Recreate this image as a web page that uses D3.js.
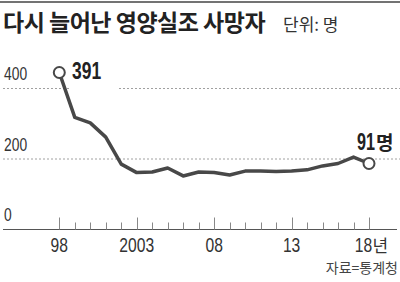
<!DOCTYPE html>
<html>
<head>
<meta charset="utf-8">
<script src="https://cdn.jsdelivr.net/npm/d3@7"></script>
<style>
  html, body { margin: 0; padding: 0; background: #fff; }
  svg { display: block; }
</style>
</head>
<body>
<svg id="chart" width="400" height="282"></svg>
<script>
// data
const years = d3.range(1998, 2019)
const deaths = [391, 243, 225, 178, 89, 61, 63, 76, 50, 63, 61, 53, 66, 66, 65, 66, 70, 83, 91, 112, 91]
const gridValues = [400, 200]
const yTickLabels = ['0', '200', '400']
const majorYears = [1998, 2003, 2008, 2013, 2018]
const majorLabels = ['98', '2003', '08', '13', '18']

const svg = d3.select('#chart')
const num = "'Liberation Sans', Arial, sans-serif"
const kr = "'Noto Sans CJK KR', sans-serif"

const x = d3.scaleLinear().domain([1998, 2018]).range([59.3, 369])
// axis scale (gridlines) and data scale as drawn in the original graphic
const yAxis = d3.scaleLinear().domain([0, 400]).range([229.5, 88.5])
const yData = d3.scaleLinear().domain([0, 391]).range([191.1, 72.5])

// condensed digits: draw at origin, then translate + scale horizontally
// anchor: 0 = start, 0.5 = middle
function condensed (g, px, py, txt, perDigit, anchor, attrs) {
  const t = g.append('text').attr('x', 0).attr('y', 0).text(txt)
  Object.entries(attrs).forEach(([k, v]) => t.attr(k, v))
  const w = t.node().getComputedTextLength()
  const target = String(txt).length * perDigit
  const sx = target / w
  t.attr('transform', `translate(${px - anchor * target},${py}) scale(${sx},1)`)
  return t
}

// top rule
svg.append('line')
  .attr('x1', 0).attr('x2', 400).attr('y1', 2).attr('y2', 2)
  .attr('stroke', '#444').attr('stroke-width', 1.5)

// title
svg.append('text')
  .attr('x', 3).attr('y', 31)
  .attr('font-family', kr)
  .attr('font-size', 23).attr('font-weight', 'bold')
  .attr('letter-spacing', -0.5)
  .attr('fill', '#222')
  .text('다시 늘어난 영양실조 사망자')
svg.append('text')
  .attr('x', 283).attr('y', 31)
  .attr('font-family', kr)
  .attr('font-size', 17).attr('fill', '#333')
  .text('단위: 명')

// gridlines
svg.selectAll('.grid')
  .data(gridValues)
  .join('line')
  .attr('class', 'grid')
  .attr('x1', 3).attr('x2', 400)
  .attr('y1', d => yAxis(d)).attr('y2', d => yAxis(d))
  .attr('stroke', '#888').attr('stroke-width', 0.8)
  .attr('stroke-dasharray', '2,2')

// y labels
const yLabG = svg.append('g')
yTickLabels.forEach(d => {
  condensed(yLabG, 4, yAxis(+d) - 8.5, d, 7.7, 0,
    { 'font-family': num, 'font-size': 18, fill: '#333' })
})

// baseline and ticks
svg.append('line')
  .attr('x1', 3).attr('x2', 397)
  .attr('y1', yAxis(0)).attr('y2', yAxis(0))
  .attr('stroke', '#555').attr('stroke-width', 1)

svg.selectAll('.tick')
  .data(years)
  .join('line')
  .attr('class', 'tick')
  .attr('x1', d => Math.round(x(d)) + 0.5).attr('x2', d => Math.round(x(d)) + 0.5)
  .attr('y1', d => majorYears.includes(d) ? yAxis(0) - 12 : yAxis(0) - 7)
  .attr('y2', yAxis(0))
  .attr('stroke', '#888').attr('stroke-width', 1)

const last = majorYears.length - 1
const xLabG = svg.append('g')
majorYears.forEach((d, i) => {
  condensed(xLabG, i === last ? x(d) - 5.5 : x(d), 251.5, majorLabels[i], 8.7, 0.5,
    { 'font-family': num, 'font-size': 20, fill: '#333' })
})
svg.append('text')
  .attr('x', x(majorYears[last]) + 3.5).attr('y', 251.5)
  .attr('font-family', kr).attr('font-size', 17)
  .attr('fill', '#333')
  .text('년')

// line
const line = d3.line()
  .x((d, i) => x(years[i]))
  .y(d => yData(d))

svg.append('path')
  .datum(deaths)
  .attr('d', line)
  .attr('fill', 'none')
  .attr('stroke', '#484848')
  .attr('stroke-width', 3.5)
  .attr('stroke-linejoin', 'round')

// end markers
const ends = [0, deaths.length - 1]
svg.selectAll('.dot')
  .data(ends)
  .join('circle')
  .attr('class', 'dot')
  .attr('cx', i => x(years[i]))
  .attr('cy', i => yData(deaths[i]))
  .attr('r', 5.5)
  .attr('fill', '#fff')
  .attr('stroke', '#484848')
  .attr('stroke-width', 2)

// value labels
svg.append('rect')
  .attr('x', 70).attr('y', 84).attr('width', 47).attr('height', 8)
  .attr('fill', '#fff')
const valG = svg.append('g')
const boldNum = { 'font-family': num, 'font-size': 24, 'font-weight': 'bold', fill: '#222' }
condensed(valG, 72, yData(deaths[0]) + 6.5, deaths[0], 9.7, 0, boldNum)
condensed(valG, 357, 150, deaths[deaths.length - 1], 9, 0, boldNum)
svg.append('text')
  .attr('x', 376).attr('y', 150)
  .attr('font-family', kr).attr('font-size', 19).attr('font-weight', 'bold')
  .attr('fill', '#222')
  .text('명')

// source
svg.append('text')
  .attr('x', 398).attr('y', 273)
  .attr('text-anchor', 'end')
  .attr('font-family', kr).attr('font-size', 14)
  .attr('fill', '#444')
  .text('자료=통계청')
</script>
</body>
</html>
